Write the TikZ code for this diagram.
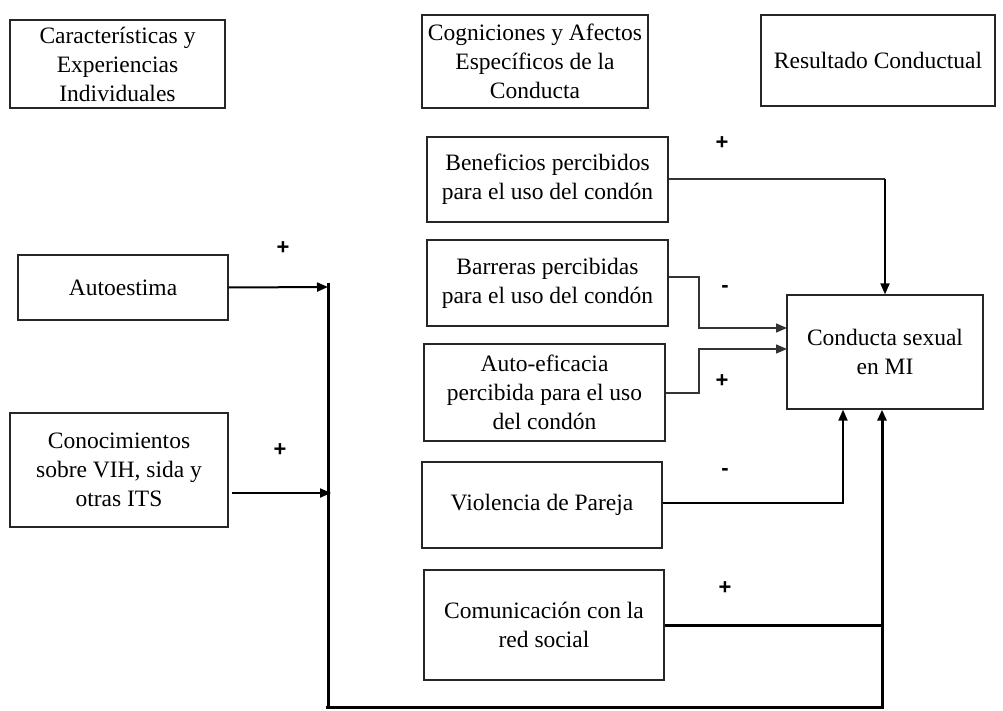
\documentclass[tikz,border=0pt]{standalone}
\usepackage{fontspec}
\setmainfont{Liberation Serif}
\newfontfamily\signfont{Liberation Sans}
\usetikzlibrary{arrows.meta}
\begin{document}
\begin{tikzpicture}[x=1pt,y=-1pt,
  box/.style={draw=black!85,line width=1.3pt,inner sep=0pt,align=center,
    font=\fontsize{23.5}{29}\selectfont},
  thin/.style={draw=black!80,line width=1.3pt},
  mid/.style={draw=black,line width=2pt},
  thick/.style={draw=black,line width=3pt},
  tip/.style={-{Triangle[length=11pt,width=9pt]}},
  sign/.style={font=\signfont\bfseries\fontsize{22}{22}\selectfont,inner sep=0pt}]
\useasboundingbox (0,0) rectangle (1003,711);

% column headers
\node[box,minimum width=215,minimum height=88] (hcar) at (117.5,64)
  {Características y\\Experiencias\\Individuales};
\node[box,minimum width=226,minimum height=93] (hcog) at (535,61.5)
  {Cogniciones y Afectos\\Específicos de la\\Conducta};
\node[box,minimum width=234,minimum height=91] (hres) at (878,60.5)
  {Resultado Conductual};

% individual characteristics
\node[box,minimum width=210,minimum height=65] (auto) at (123,287.5) {Autoestima};
\node[box,minimum width=218,minimum height=114] (cono) at (119,470)
  {Conocimientos\\sobre VIH, sida y\\otras ITS};

% behaviour-specific cognitions
\node[box,minimum width=241,minimum height=85] (bene) at (547.5,179.5)
  {Beneficios percibidos\\para el uso del condón};
\node[box,minimum width=241,minimum height=86] (barr) at (547.5,283)
  {Barreras percibidas\\para el uso del condón};
\node[box,minimum width=241,minimum height=97] (efic) at (544.5,392.5)
  {Auto-eficacia\\percibida para el uso\\del condón};
\node[box,minimum width=240,minimum height=86] (viol) at (542,505)
  {Violencia de Pareja};
\node[box,minimum width=240,minimum height=110] (comu) at (544,625)
  {Comunicación con la\\red social};

% outcome
\node[box,minimum width=196,minimum height=114,text depth=0pt] (cond) at (885,352)
  {Conducta sexual\\en MI};

% junction points
\coordinate (busT) at (328,283);
\coordinate (busB) at (328,707);
\coordinate (busBL) at (326,707);
\coordinate (busBR) at (884,707);
\coordinate (riseR) at (882,707);
\coordinate (benR) at (885,179);
\coordinate (barA) at (699,277);
\coordinate (barB) at (699,328);
\coordinate (barC) at (787,328);
\coordinate (efA) at (699,393);
\coordinate (efB) at (699,349);
\coordinate (efC) at (787,349);
\coordinate (viA) at (843,503);
\coordinate (comA) at (882,625);
\coordinate (auA) at (328,287);
\coordinate (coS) at (232,493);
\coordinate (coA) at (331,493);

% left bus collecting the individual factors
\draw[mid,tip] (auto.east) -- (auA);
\draw[mid,tip] (coS) -- (coA);
\draw[thick] (busT) -- (busB);
\draw[thick] (busBL) -- (busBR);
\draw[thick,tip] (riseR) -- (riseR |- cond.south);

% cognitions to behaviour
\draw[thin] (bene.east |- benR) -- (benR);
\draw[mid,tip] (benR) -- (benR |- cond.north);
\draw[thin,tip] (barr.east |- barA) -- (barA) -- (barB) -- (barC);
\draw[thin,tip] (efic.east |- efA) -- (efA) -- (efB) -- (efC);
\draw[mid,tip] (viol.east |- viA) -- (viA) -- (viA |- cond.south);
\draw[thick] (comu.east |- comA) -- (comA);

% signs of the effects
\node[sign] (s1) at (283,248) {+};
\node[sign] (s2) at (280,450) {+};
\node[sign] (s3) at (722,143) {+};
\node[sign] (s4) at (725,289) {-};
\node[sign] (s5) at (722,381) {+};
\node[sign] (s6) at (725,472) {-};
\node[sign] (s7) at (725,588) {+};
\end{tikzpicture}
\end{document}
